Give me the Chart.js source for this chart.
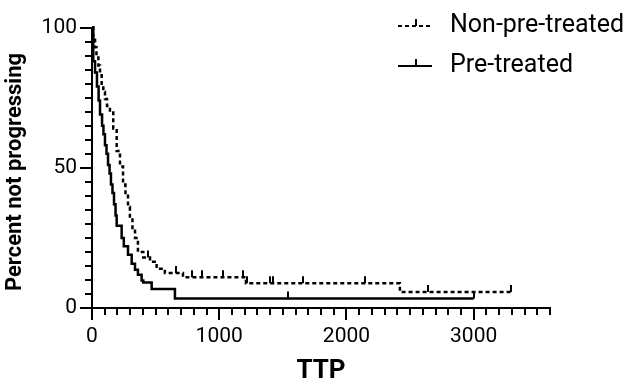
<!DOCTYPE html>
<html>
<head>
<meta charset="utf-8">
<script src="https://cdn.jsdelivr.net/npm/chart.js@4/dist/chart.umd.min.js"></script>
<style>
  html, body { margin: 0; padding: 0; background: #fff; }
  #chart { display: block; }
</style>
</head>
<body>
<canvas id="chart" width="630" height="385"></canvas>
<script>
// Kaplan-Meier steps: time (days) and percent not progressing after that time
const preTime = [0, 10, 24, 39, 52, 63, 79, 90, 102, 114, 126, 138, 149, 161, 173, 185, 194, 233, 250, 283, 312, 338, 361, 390, 403, 469, 652, 3000];
const preSurv = [100, 88, 84, 79, 74, 69, 65, 62, 58, 55, 51, 48, 44, 41, 37, 33, 29.3, 25, 22, 19, 15.8, 13.6, 11.9, 9.8, 9.1, 6.8, 3.4, 3.4];
const preCensor = [1540, 3000];

const nonTime = [0, 10, 24, 35, 50, 63, 76, 89, 102, 118, 141, 167, 194, 220, 244, 263, 283, 298, 318, 338, 361, 403, 456, 508, 573, 715, 1210, 2420, 3290];
const nonSurv = [100, 97, 93, 90, 86.5, 83, 80, 77, 74.5, 72, 69.7, 64, 56, 50.5, 44, 40, 36, 31.6, 28, 25, 20, 18, 16.5, 14, 12.5, 11, 8.8, 5.7, 5.7];
const nonCensor = [440, 660, 785, 865, 1030, 1190, 1220, 1400, 1425, 1660, 2145, 2640, 3290];

const seriesNames = ['Non-pre-treated', 'Pre-treated'];
const xTickLabels = [0, 1000, 2000, 3000];
const yTickLabels = [0, 50, 100];

const FONT = 'Roboto';

function toPoints(t, s) {
  return t.map((v, i) => ({x: v, y: s[i]}));
}

function survAt(t, times, surv) {
  let s = surv[0];
  for (let i = 0; i < times.length; i++) {
    if (times[i] <= t) s = surv[i];
  }
  return s;
}

const kmPlugin = {
  id: 'km',
  afterDatasetsDraw(chart) {
    const {ctx, scales: {x, y}} = chart;
    ctx.save();
    ctx.strokeStyle = '#000';
    ctx.lineWidth = 2;
    ctx.setLineDash([]);
    const sets = [[nonCensor, nonTime, nonSurv], [preCensor, preTime, preSurv]];
    sets.forEach(([cens, times, surv]) => {
      cens.forEach(c => {
        const px = Math.round(x.getPixelForValue(c));
        const py = y.getPixelForValue(survAt(c, times, surv));
        ctx.beginPath();
        ctx.moveTo(px, py);
        ctx.lineTo(px, py - 7);
        ctx.stroke();
      });
    });
    ctx.restore();
  },
  afterDraw(chart) {
    const {ctx, chartArea: a, scales: {x, y}} = chart;
    ctx.save();
    ctx.strokeStyle = '#000';
    ctx.lineWidth = 2;
    // y ticks
    for (let v = 0; v <= 100; v += 5) {
      const py = Math.round(y.getPixelForValue(v));
      const len = v % 50 === 0 ? 12 : 7;
      ctx.beginPath();
      ctx.moveTo(a.left, py);
      ctx.lineTo(a.left - len, py);
      ctx.stroke();
    }
    // x ticks
    for (let v = 0; v <= 3600; v += 100) {
      const px = Math.round(x.getPixelForValue(v));
      const len = v % 1000 === 0 ? 12 : 7;
      ctx.beginPath();
      ctx.moveTo(px, a.bottom);
      ctx.lineTo(px, a.bottom + len);
      ctx.stroke();
    }

    // axis titles
    ctx.fillStyle = '#000';
    ctx.font = 'bold 26px ' + FONT;
    ctx.textAlign = 'center';
    ctx.textBaseline = 'middle';
    ctx.fillText('TTP', (a.left + a.right) / 2, 371);
    ctx.save();
    ctx.translate(15, 172);
    ctx.rotate(-Math.PI / 2);
    ctx.font = 'bold 22px ' + FONT;
    ctx.fillText('Percent not progressing', 0, 0);
    ctx.restore();

    // legend
    const rows = [{y: 26, dash: [4, 3], name: seriesNames[0]}, {y: 66, dash: [], name: seriesNames[1]}];
    rows.forEach(r => {
      ctx.lineWidth = 2;
      ctx.setLineDash(r.dash);
      ctx.beginPath();
      ctx.moveTo(398, r.y);
      ctx.lineTo(432, r.y);
      ctx.stroke();
      ctx.setLineDash([]);
      ctx.beginPath();
      ctx.moveTo(416, r.y);
      ctx.lineTo(416, r.y - 7);
      ctx.stroke();
      ctx.font = '25px ' + FONT;
      ctx.textAlign = 'left';
      ctx.textBaseline = 'middle';
      ctx.fillText(r.name, 450, r.y);
    });
    ctx.restore();
  }
};

new Chart(document.getElementById('chart'), {
  type: 'line',
  data: {
    datasets: [
      {
        label: seriesNames[0],
        data: toPoints(nonTime, nonSurv),
        borderColor: '#000',
        borderWidth: 2.5,
        borderDash: [4, 3],
        stepped: 'before',
        pointRadius: 0,
        fill: false,
        clip: false
      },
      {
        label: seriesNames[1],
        data: toPoints(preTime, preSurv),
        borderColor: '#000',
        borderWidth: 2.5,
        stepped: 'before',
        pointRadius: 0,
        fill: false,
        clip: false
      }
    ]
  },
  options: {
    responsive: false,
    animation: false,
    devicePixelRatio: 1,
    layout: {padding: {left: 0, top: 10, right: 80, bottom: 0}},
    plugins: {
      legend: {display: false},
      tooltip: {enabled: false}
    },
    scales: {
      x: {
        type: 'linear',
        min: 0,
        max: 3600,
        afterFit(scale) { scale.height = 77; },
        afterBuildTicks(scale) { scale.ticks = xTickLabels.map(v => ({value: v})); },
        grid: {display: false, drawTicks: false},
        border: {display: true, color: '#000', width: 2},
        ticks: {
          padding: 16,
          color: '#000',
          font: {family: FONT, size: 21},
          autoSkip: false,
          maxRotation: 0,
          callback: v => String(v)
        }
      },
      y: {
        min: 0,
        max: 100,
        afterFit(scale) { scale.width = 92; },
        afterBuildTicks(scale) { scale.ticks = yTickLabels.map(v => ({value: v})); },
        grid: {display: false, drawTicks: false},
        border: {display: true, color: '#000', width: 2},
        ticks: {
          padding: 15,
          color: '#000',
          font: {family: FONT, size: 21},
          callback: v => String(v)
        }
      }
    }
  },
  plugins: [kmPlugin]
});
</script>
</body>
</html>
